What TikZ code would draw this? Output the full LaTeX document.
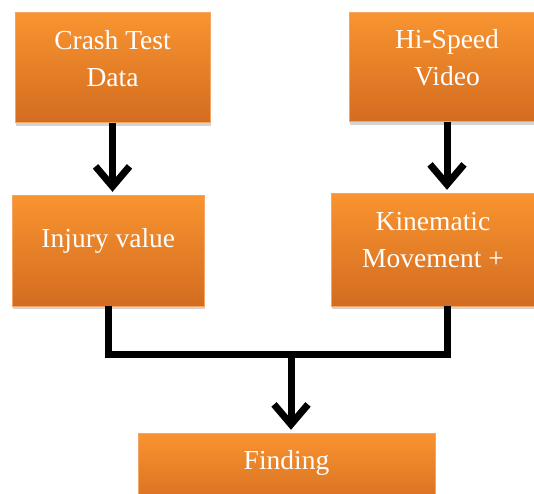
\documentclass[tikz,border=0pt]{standalone}
\usepackage{fontspec}
\setmainfont{Liberation Serif}
\usetikzlibrary{shapes.geometric,arrows,arrows.meta,shadows}
\tikzstyle{arrow} = [line width=7pt,-{Straight Barb[length=20pt,width=34pt]},shorten >=3pt]

\definecolor{otop}{RGB}{249,148,48}
\definecolor{obot}{RGB}{211,108,32}
\definecolor{oline}{RGB}{243,166,100}

\newcommand{\txt}[2]{\raisebox{3pt}[0pt][0pt]{\parbox[c]{#1}{\centering #2}}}

\begin{document}
\begin{tikzpicture}[x=1pt,y=-1pt]

\tikzstyle{b} = [rectangle, draw=oline, top color=otop, bottom color=obot, text=white, inner sep=0pt, font=\fontsize{27.5}{37}\selectfont, drop shadow={shadow xshift=1pt,shadow yshift=-3pt,opacity=0.35}]
\tikzstyle{l} = [line width=7pt]

\useasboundingbox (0,0) rectangle (534,493);

\node[b, minimum width=195pt, minimum height=110pt](C)at(112.5,67.5){\txt{190pt}{Crash Test\\Data}};
\node[b, minimum width=196pt, minimum height=109pt](H)at(447,67){\txt{190pt}{Hi-Speed\\Video}};
\node[b, minimum width=192pt, minimum height=111pt](I)at(108.3,250.5){\txt{185pt}{Injury value}};
\node[b, minimum width=204pt, minimum height=113pt](K)at(433,249.5){\txt{195pt}{Kinematic\\Movement +}};
\node[b, minimum width=297pt, minimum height=78pt](F)at(286.5,472){\txt{280pt}{Finding}};

\coordinate (J) at (291,354);

\draw[arrow](C.south) -- (C.south |- I.north);
\draw[arrow](H.south) -- (H.south |- K.north);
\draw[l](I.south) |- (J) -| (H.south |- K.south);
\draw[arrow](J) -- (J |- F.north);

\end{tikzpicture}
\end{document}
